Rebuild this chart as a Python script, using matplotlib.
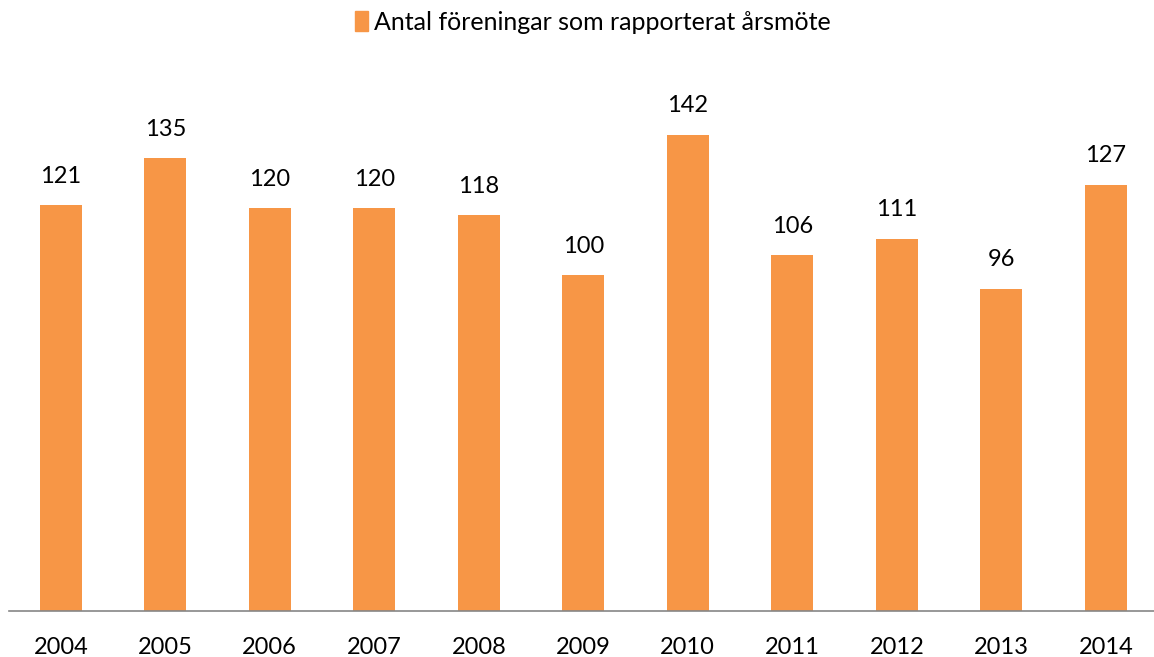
import matplotlib.pyplot as plt
from matplotlib.patches import Patch

years = ["2004", "2005", "2006", "2007", "2008", "2009", "2010", "2011", "2012", "2013", "2014"]
counts = [121, 135, 120, 120, 118, 100, 142, 106, 111, 96, 127]
series_name = "Antal föreningar som rapporterat årsmöte"

bar_color = "#F79646"
plt.rcParams["font.family"] = ["Lato", "DejaVu Sans"]

fig = plt.figure(figsize=(11.54, 6.57), dpi=100)
ax = fig.add_axes([0.0074, 0.070, 0.9961, 0.812])

x = range(len(years))
bars = ax.bar(x, counts, width=0.40, color=bar_color)
for rect, v in zip(bars, counts):
    ax.text(rect.get_x() + rect.get_width() / 2, v + 5.5, str(v),
            ha="center", va="bottom", fontsize=17)

ax.set_xlim(-0.5, len(years) - 0.5)
ax.set_ylim(0, 159)
ax.set_xticks(list(x))
ax.set_xticklabels(years, fontsize=17)
ax.tick_params(axis="x", length=0, pad=19)
ax.set_yticks([])
for side in ("top", "right", "left"):
    ax.spines[side].set_visible(False)
ax.spines["bottom"].set_color("#868686")
ax.spines["bottom"].set_linewidth(1.2)

fig.legend(handles=[Patch(color=bar_color)], labels=[series_name],
           loc="center", bbox_to_anchor=(0.514, 0.966), frameon=False,
           fontsize=18, handlelength=0.5, handleheight=0.85, handletextpad=0.25)

fig.savefig("out.png", dpi=100)
